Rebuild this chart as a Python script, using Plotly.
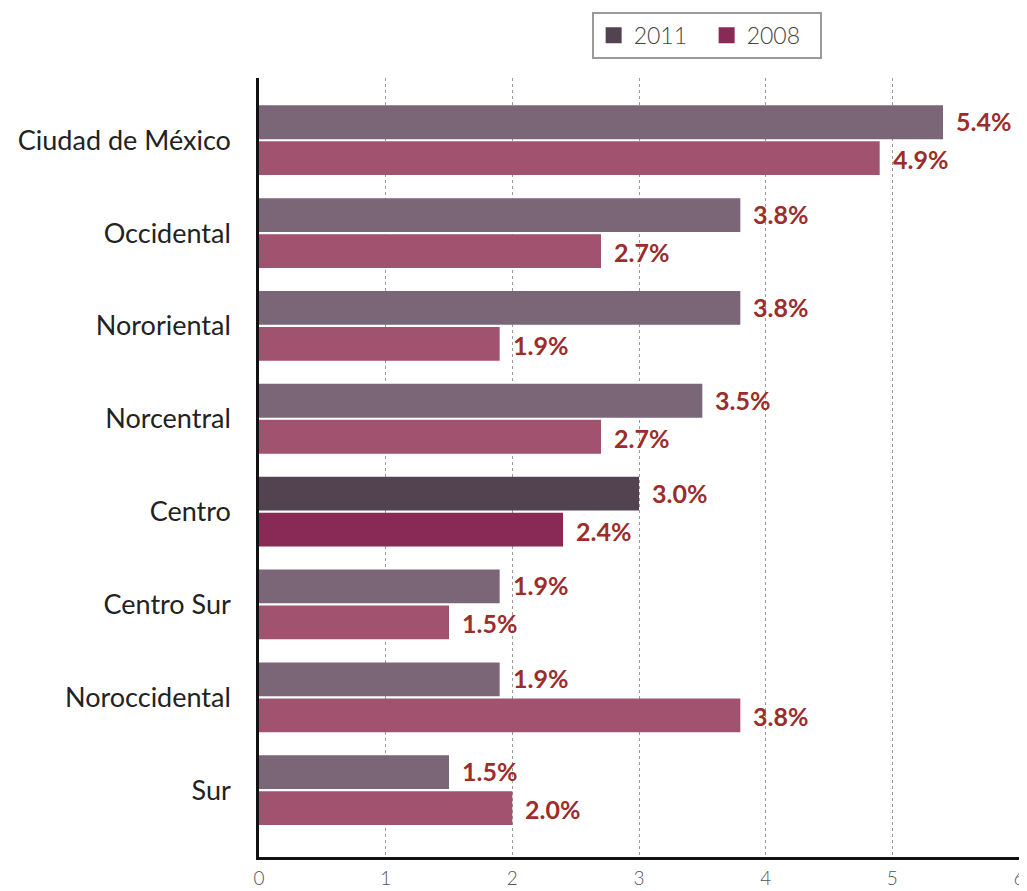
import plotly.graph_objects as go

regions = ["Ciudad de México", "Occidental", "Nororiental", "Norcentral",
           "Centro", "Centro Sur", "Noroccidental", "Sur"]
values_2011 = [5.4, 3.8, 3.8, 3.5, 3.0, 1.9, 1.9, 1.5]
values_2008 = [4.9, 2.7, 1.9, 2.7, 2.4, 1.5, 3.8, 2.0]
x_ticks = [0, 1, 2, 3, 4, 5, 6]
highlight = "Centro"

c2011, c2011_hi = "#7b6677", "#534250"
c2008, c2008_hi = "#a0526f", "#882a55"
label_color = "#9b2d2b"

cols_2011 = [c2011_hi if r == highlight else c2011 for r in regions]
cols_2008 = [c2008_hi if r == highlight else c2008 for r in regions]

fig = go.Figure()
fig.add_trace(go.Bar(y=regions, x=values_2011, orientation="h", name="2011",
                     marker=dict(color=cols_2011, line=dict(width=0)),
                     offsetgroup="a", showlegend=False))
fig.add_trace(go.Bar(y=regions, x=values_2008, orientation="h", name="2008",
                     marker=dict(color=cols_2008, line=dict(width=0)),
                     offsetgroup="b", showlegend=False))
# legend entries
fig.add_trace(go.Scatter(x=[None], y=[None], mode="markers", name="2011",
                         marker=dict(symbol="square", size=26, color=c2011_hi)))
fig.add_trace(go.Scatter(x=[None], y=[None], mode="markers", name="2008",
                         marker=dict(symbol="square", size=26, color=c2008_hi)))

lab_font = dict(family="Lato", size=25, color=label_color, weight="bold")
annotations = []
for r, v in zip(regions, values_2011):
    annotations.append(dict(x=v, y=r, xref="x", yref="y", text=f"{v:.1f}%",
                            showarrow=False, xanchor="left", yanchor="middle",
                            xshift=11, yshift=19, font=lab_font))
for r, v in zip(regions, values_2008):
    annotations.append(dict(x=v, y=r, xref="x", yref="y", text=f"{v:.1f}%",
                            showarrow=False, xanchor="left", yanchor="middle",
                            xshift=11, yshift=-19, font=lab_font))

fig.update_layout(
    width=1019, height=883,
    barmode="group", bargap=0.225, bargroupgap=0.06,
    margin=dict(l=251, r=8, t=70, b=34, autoexpand=False),
    paper_bgcolor="white", plot_bgcolor="white",
    font=dict(family="Lato", color="#222"),
    annotations=annotations,
    legend=dict(orientation="h", x=0.589, xanchor="center", y=1.085, yanchor="top",
                bordercolor="#9a9a9a", borderwidth=2, bgcolor="white",
                entrywidth=68, entrywidthmode="pixels",
                font=dict(family="Lato", size=23, color="#444", weight=300),
                traceorder="normal"),
    xaxis=dict(range=[0, 6], tickvals=x_ticks, ticktext=[str(t) for t in x_ticks],
               showgrid=True, gridcolor="#9a9a9a", griddash="dot", gridwidth=1,
               zeroline=False, showline=True, linecolor="#111", linewidth=2.5,
               ticks="", ticklabelstandoff=2, automargin=False,
               ticklabeloverflow="allow",
               tickfont=dict(family="Lato", size=19, color="#555", weight=300)),
    yaxis=dict(categoryorder="array", categoryarray=regions, range=[7.72, -0.67],
               showgrid=False, zeroline=False, showline=True, linecolor="#111",
               linewidth=2.5, ticks="", ticklabelstandoff=20, automargin=False,
               tickfont=dict(family="Lato", size=27, color="#222")),
)

fig.write_html("out.html")
